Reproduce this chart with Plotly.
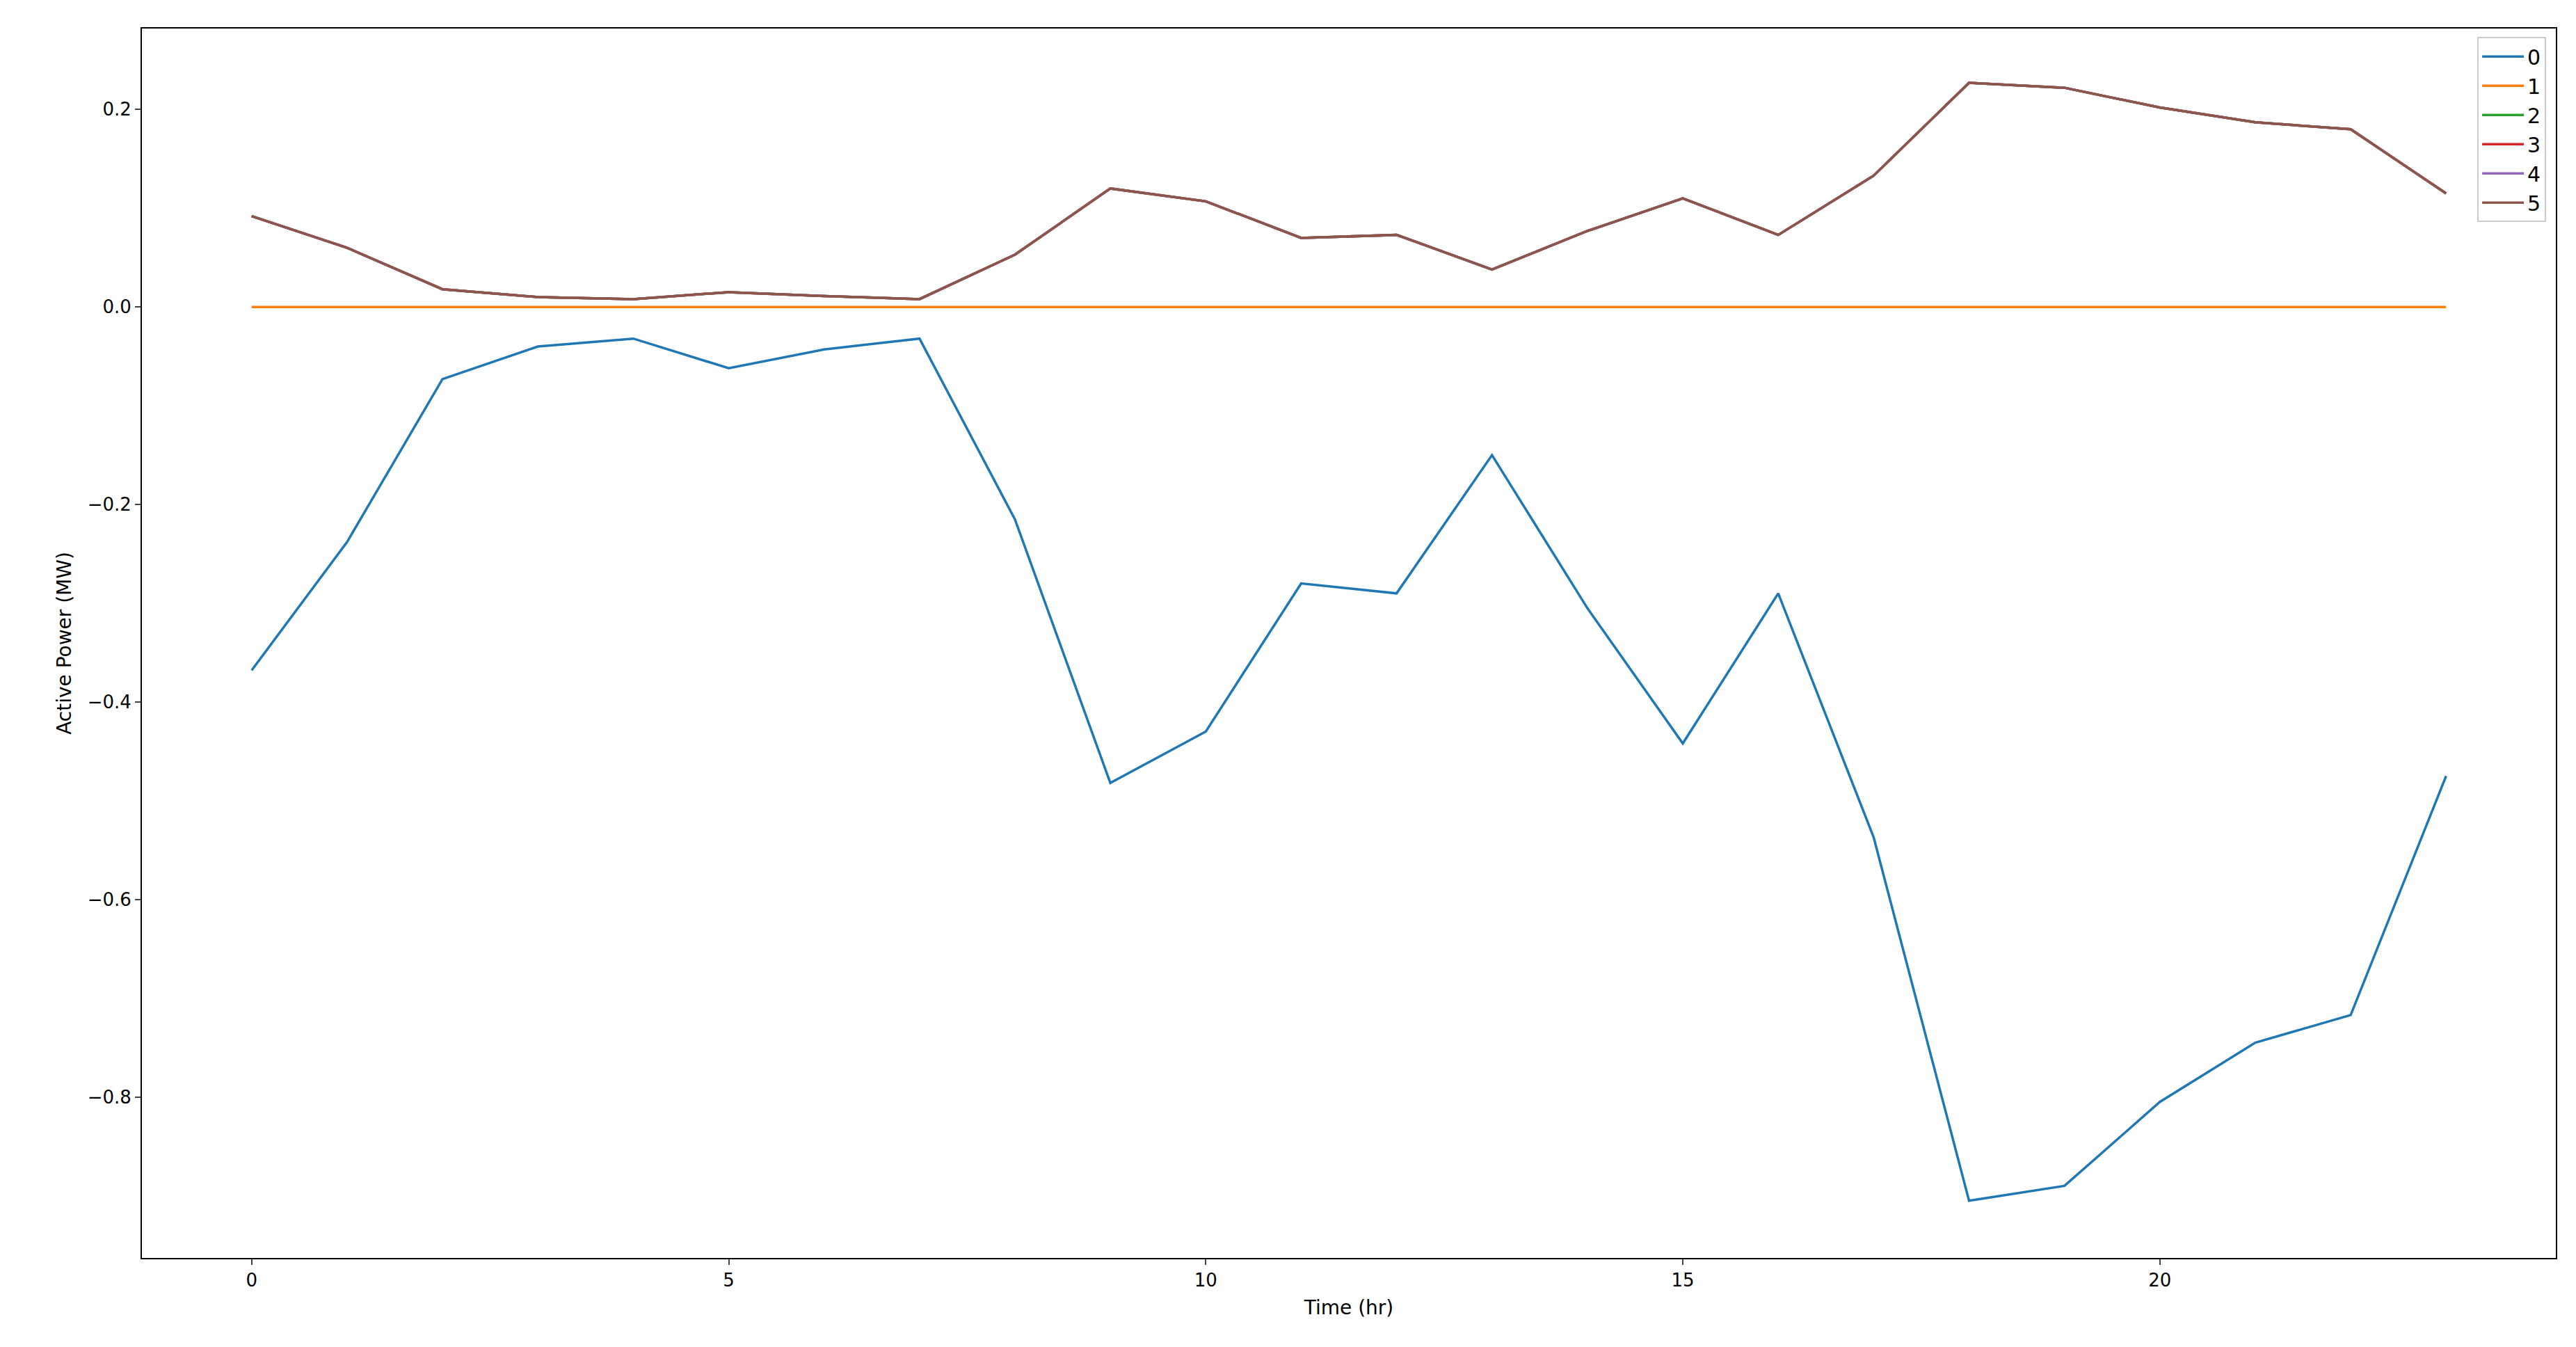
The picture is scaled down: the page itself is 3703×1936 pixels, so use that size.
import plotly.graph_objects as go

hours = list(range(24))
s0 = [-0.368, -0.238, -0.073, -0.040, -0.032, -0.062, -0.043, -0.032, -0.215, -0.482,
      -0.430, -0.280, -0.290, -0.150, -0.305, -0.442, -0.290, -0.537, -0.905, -0.890,
      -0.805, -0.745, -0.717, -0.475]
s1 = [0.0] * 24
s5 = [0.092, 0.060, 0.018, 0.010, 0.008, 0.015, 0.011, 0.008, 0.053, 0.120,
      0.107, 0.070, 0.073, 0.038, 0.077, 0.110, 0.073, 0.133, 0.227, 0.222,
      0.202, 0.187, 0.180, 0.115]
s2 = s5
s3 = s5
s4 = s5

series = {"0": s0, "1": s1, "2": s2, "3": s3, "4": s4, "5": s5}
colors = ["#1f77b4", "#ff7f0e", "#2ca02c", "#d62728", "#9467bd", "#8c564b"]

fig = go.Figure()
for (name, vals), c in zip(series.items(), colors):
    fig.add_trace(go.Scatter(x=hours, y=vals, mode="lines", name=name,
                             line=dict(color=c, width=3.5)))

axis = dict(showgrid=False, zeroline=False, showline=True, mirror=True,
            linecolor="black", linewidth=2, ticks="outside", ticklen=8,
            tickwidth=2, tickfont=dict(size=26, color="black"))
fig.update_xaxes(**axis, title=dict(text="Time (hr)", font=dict(size=28)),
                 range=[-1.15, 24.15], tickvals=[0, 5, 10, 15, 20])
fig.update_yaxes(**axis, title=dict(text="Active Power (MW)", font=dict(size=28)),
                 range=[-0.963, 0.282], tickvals=[0.2, 0, -0.2, -0.4, -0.6, -0.8],
                 tickformat=".1f")
fig.update_layout(
    width=3703, height=1936,
    margin=dict(l=196, r=37, t=33, b=136),
    paper_bgcolor="white", plot_bgcolor="white",
    font=dict(family="DejaVu Sans", color="black"),
    legend=dict(x=0.996, y=0.993, xanchor="right", yanchor="top",
                bordercolor="#cccccc", borderwidth=2, font=dict(size=30),
                itemwidth=60, tracegroupgap=4,
                bgcolor="rgba(255,255,255,0.8)"),
)
fig.write_html("out.html")
